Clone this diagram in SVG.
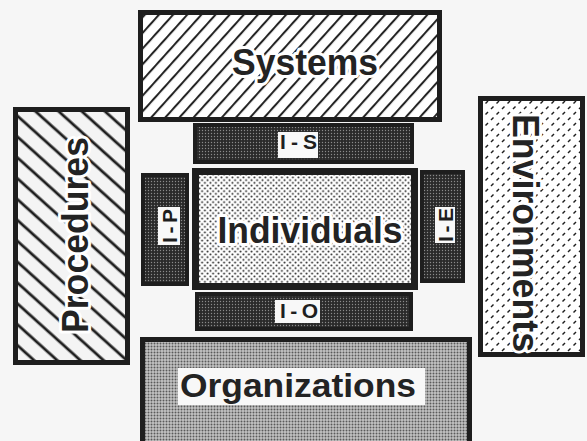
<svg xmlns="http://www.w3.org/2000/svg" width="587" height="441" viewBox="0 0 587 441">
  <defs>
    <!-- forward hatch for Systems -->
    <pattern id="hatchFwd" patternUnits="userSpaceOnUse" width="10.5" height="10.5" patternTransform="rotate(42)">
      <rect width="10.5" height="10.5" fill="#ffffff"/>
      <line x1="2" y1="0" x2="2" y2="10.5" stroke="#1e1e1e" stroke-width="2"/>
    </pattern>
    <!-- backward hatch for Procedures -->
    <pattern id="hatchBack" patternUnits="userSpaceOnUse" width="15.5" height="15.5" patternTransform="rotate(-48)">
      <rect width="15.5" height="15.5" fill="#f4f4f4"/>
      <line x1="3" y1="0" x2="3" y2="15.5" stroke="#1e1e1e" stroke-width="2.8"/>
    </pattern>
    <!-- short dashes for Environments -->
    <pattern id="dashes" patternUnits="userSpaceOnUse" width="11" height="11">
      <rect width="11" height="11" fill="#ffffff"/>
      <line x1="1.5" y1="4.5" x2="4" y2="2" stroke="#1e1e1e" stroke-width="1.5"/>
      <line x1="7" y1="10" x2="9.5" y2="7.5" stroke="#1e1e1e" stroke-width="1.5"/>
    </pattern>
    <!-- dot stipple for Individuals -->
    <pattern id="dots" patternUnits="userSpaceOnUse" width="5.5" height="5.5">
      <rect width="5.5" height="5.5" fill="#ffffff"/>
      <circle cx="1.4" cy="1.4" r="1" fill="#222"/>
      <circle cx="4.1" cy="4.1" r="1" fill="#222"/>
    </pattern>
    <!-- grey screen for Organizations -->
    <pattern id="grey" patternUnits="userSpaceOnUse" width="3" height="3">
      <rect width="3" height="3" fill="#c4c4c4"/>
      <circle cx="1.5" cy="1.5" r="1" fill="#5a5a5a"/>
    </pattern>
    <!-- dark screen for the interface bars -->
    <pattern id="dark" patternUnits="userSpaceOnUse" width="3" height="3">
      <rect width="3" height="3" fill="#2a2a2a"/>
      <circle cx="1.5" cy="1.5" r="0.7" fill="#8a8a8a"/>
    </pattern>
  </defs>
  <style>
    .big { font-family: "Liberation Sans", Arial, sans-serif; font-weight: bold; fill: #232323; }
    .halo { stroke: #ffffff; stroke-width: 6; stroke-linejoin: round; paint-order: stroke; }
    .small { font-family: "Liberation Sans", Arial, sans-serif; font-weight: bold; font-size: 21px; fill: #1e1e1e; }
    .box { stroke: #1e1e1e; }
    .tag { fill: #f8f8f8; }
  </style>

  <rect width="587" height="441" fill="#f6f6f6"/>

  <g id="systems">
    <rect class="box" x="140.5" y="12.5" width="299" height="107" fill="url(#hatchFwd)" stroke-width="5"/>
    <text class="big halo" x="305" y="75" font-size="37" text-anchor="middle" textLength="146" lengthAdjust="spacingAndGlyphs">Systems</text>
  </g>

  <g id="procedures">
    <rect class="box" x="15.5" y="109.5" width="112" height="253" fill="url(#hatchBack)" stroke-width="5"/>
    <text class="big halo" transform="translate(88 235) rotate(-90)" font-size="36" text-anchor="middle" textLength="196" lengthAdjust="spacingAndGlyphs">Procedures</text>
  </g>

  <g id="environments">
    <rect class="box" x="480.5" y="98.5" width="102" height="256" fill="url(#dashes)" stroke-width="5"/>
    <text class="big halo" transform="translate(513 233) rotate(90)" font-size="36" text-anchor="middle" textLength="238" lengthAdjust="spacingAndGlyphs">Environments</text>
  </g>

  <g id="individuals">
    <rect class="box" x="195.5" y="171.5" width="219" height="115" fill="url(#dots)" stroke-width="7"/>
    <text class="big halo" x="310" y="243" font-size="36" text-anchor="middle" textLength="185" lengthAdjust="spacingAndGlyphs">Individuals</text>
  </g>

  <g id="organizations">
    <rect class="box" x="142.5" y="339.5" width="327" height="110" fill="url(#grey)" stroke-width="5"/>
    <rect class="tag" x="178" y="368" width="247" height="37"/>
    <text class="big" x="298" y="397" font-size="34" text-anchor="middle" textLength="236" lengthAdjust="spacingAndGlyphs">Organizations</text>
  </g>

  <g id="links">
    <g id="i-s">
      <rect class="box" x="195" y="125" width="217" height="37" fill="url(#dark)" stroke-width="4"/>
      <rect class="tag" x="278" y="132" width="40" height="26"/>
      <text class="small" x="298.5" y="149" text-anchor="middle" textLength="37" lengthAdjust="spacing">I-S</text>
    </g>
    <g id="i-o">
      <rect class="box" x="197" y="294" width="214" height="35" fill="url(#dark)" stroke-width="4"/>
      <rect class="tag" x="275" y="300" width="45" height="23"/>
      <text class="small" x="299" y="318" text-anchor="middle" textLength="38" lengthAdjust="spacing">I-O</text>
    </g>
    <g id="i-p">
      <rect class="box" x="143" y="175" width="44" height="109" fill="url(#dark)" stroke-width="4"/>
      <rect class="tag" x="158" y="207" width="22" height="38"/>
      <text class="small" transform="translate(177 226) rotate(-90)" text-anchor="middle" textLength="34" lengthAdjust="spacing">I-P</text>
    </g>
    <g id="i-e">
      <rect class="box" x="422" y="172" width="41" height="109" fill="url(#dark)" stroke-width="4"/>
      <rect class="tag" x="435" y="207" width="20" height="36"/>
      <text class="small" transform="translate(453 225) rotate(-90)" text-anchor="middle" textLength="34" lengthAdjust="spacing">I-E</text>
    </g>
  </g>
</svg>
